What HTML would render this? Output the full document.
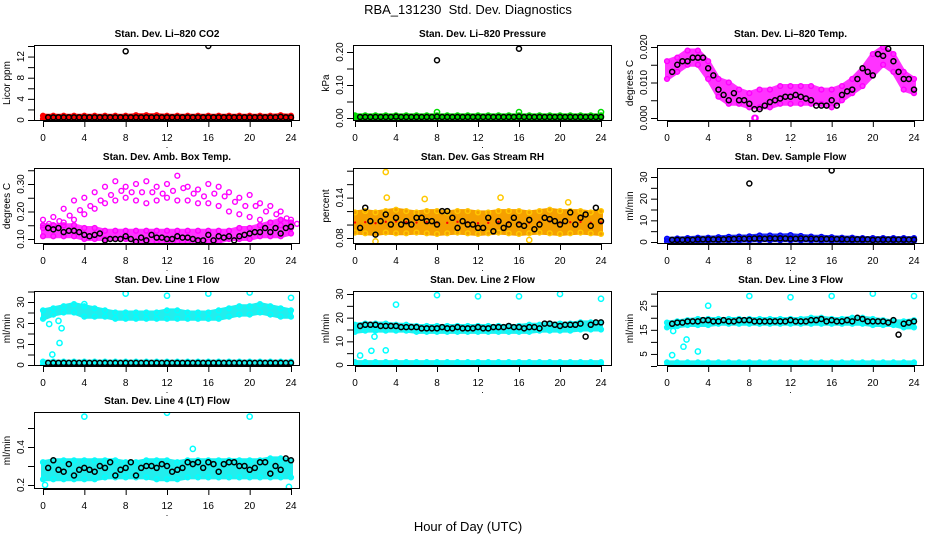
<!DOCTYPE html>
<html><head><meta charset="utf-8">
<style>
html,body{margin:0;padding:0;background:#fff;}
svg{display:block;font-family:"Liberation Sans",sans-serif;}
.t{font-weight:bold;font-size:10px;}
.tk{font-size:10px;}
</style></head>
<body>
<svg id="chart" width="936" height="540" viewBox="0 0 936 540" xmlns="http://www.w3.org/2000/svg">
<rect width="936" height="540" fill="#fff"/>
<text x="468" y="14" text-anchor="middle" font-size="13">RBA_131230&#160; Std. Dev. Diagnostics</text>
<text x="468" y="531" text-anchor="middle" font-size="13">Hour of Day (UTC)</text>
</svg>
<script>
// ---------- data (hourly band lo/hi for x=0..24, black half-hourly x=0.5..24) ----------
const xTicks=[0,4,8,12,16,20,24];
const co2Lo=[0.2,0.2,0.2,0.2,0.2,0.2,0.2,0.2,0.2,0.2,0.2,0.2,0.2,0.2,0.2,0.2,0.2,0.2,0.2,0.2,0.2,0.2,0.2,0.2,0.2];
const co2Hi=[0.8,0.8,0.8,0.8,0.8,0.8,0.8,0.8,0.8,0.9,0.9,0.9,0.8,0.8,0.8,0.8,0.8,0.8,0.8,0.8,0.8,0.8,0.8,0.9,0.8];
const co2Black=[0.5,0.5,0.5,0.5,0.5,0.5,0.5,0.5,0.5,0.5,0.5,0.5,0.5,0.5,0.5,0.5,0.5,0.5,0.5,0.5,0.5,0.5,0.5,0.5,0.5,0.5,0.5,0.5,0.5,0.5,0.5,0.5,0.5,0.5,0.5,0.5,0.5,0.5,0.5,0.5,0.5,0.5,0.5,0.5,0.5,0.6,0.5,0.5];
const co2OutX=[8,16]; const co2OutY=[13,14];
const presLo=[0,0,0,0,0,0,0,0,0,0,0,0,0,0,0,0,0,0,0,0,0,0,0,0,0];
const presHi=[0.008,0.008,0.008,0.008,0.008,0.008,0.008,0.008,0.008,0.008,0.008,0.008,0.008,0.008,0.008,0.008,0.008,0.008,0.008,0.008,0.008,0.008,0.008,0.008,0.008];
const presBlack=[0.003,0.003,0.003,0.003,0.003,0.003,0.003,0.004,0.003,0.003,0.003,0.003,0.003,0.003,0.003,0.004,0.003,0.003,0.003,0.003,0.003,0.003,0.003,0.003,0.003,0.003,0.003,0.003,0.003,0.003,0.003,0.004,0.003,0.003,0.003,0.003,0.003,0.003,0.003,0.003,0.003,0.003,0.003,0.003,0.003,0.003,0.003,0.003];
const presOutX=[8,16]; const presOutY=[0.175,0.21];
const presColOutX=[8,16,24]; const presColOutY=[0.018,0.018,0.018];
const tempLo=[0.011,0.013,0.015,0.015,0.011,0.006,0.004,0.004,0.003,0.003,0.003,0.004,0.004,0.004,0.004,0.004,0.003,0.005,0.007,0.009,0.012,0.015,0.013,0.008,0.007];
const tempHi=[0.016,0.017,0.019,0.019,0.016,0.011,0.010,0.008,0.007,0.008,0.008,0.009,0.009,0.009,0.009,0.008,0.008,0.009,0.011,0.014,0.018,0.020,0.018,0.013,0.011];
const tempBlack=[0.013,0.015,0.016,0.016,0.017,0.017,0.017,0.014,0.012,0.008,0.0065,0.005,0.007,0.005,0.005,0.004,0.0025,0.0025,0.0035,0.0045,0.005,0.0055,0.006,0.006,0.0065,0.006,0.0055,0.005,0.0035,0.0035,0.0035,0.005,0.0035,0.0065,0.0075,0.008,0.011,0.014,0.013,0.012,0.018,0.0175,0.0195,0.016,0.013,0.011,0.011,0.008];
const tempColOutX=[8.5,8.6]; const tempColOutY=[0,0];
const ambLo=[0.11,0.11,0.11,0.11,0.10,0.10,0.10,0.10,0.10,0.09,0.09,0.09,0.09,0.09,0.09,0.09,0.09,0.09,0.10,0.10,0.10,0.11,0.11,0.11,0.12];
const ambHi=[0.15,0.15,0.15,0.15,0.14,0.14,0.13,0.13,0.13,0.13,0.13,0.13,0.13,0.13,0.13,0.13,0.13,0.13,0.13,0.14,0.14,0.15,0.16,0.17,0.16];
const ambUpLo=[0.14,0.15,0.16,0.17,0.19,0.21,0.23,0.24,0.25,0.24,0.23,0.24,0.25,0.24,0.24,0.23,0.23,0.22,0.20,0.19,0.18,0.17,0.16,0.15,0.14];
const ambUpHi=[0.17,0.18,0.21,0.24,0.25,0.27,0.29,0.31,0.29,0.30,0.31,0.29,0.30,0.33,0.29,0.28,0.30,0.29,0.27,0.25,0.26,0.23,0.22,0.20,0.17];
const ambBlack=[0.14,0.135,0.14,0.125,0.13,0.13,0.125,0.115,0.11,0.115,0.12,0.095,0.10,0.10,0.10,0.11,0.10,0.09,0.105,0.095,0.115,0.105,0.105,0.10,0.10,0.11,0.105,0.105,0.10,0.095,0.095,0.115,0.095,0.11,0.105,0.11,0.095,0.11,0.115,0.12,0.125,0.125,0.14,0.125,0.14,0.12,0.14,0.145];
const rhLo=[0.088,0.087,0.086,0.088,0.087,0.087,0.088,0.087,0.086,0.087,0.088,0.087,0.086,0.087,0.088,0.087,0.086,0.087,0.088,0.087,0.086,0.087,0.088,0.087,0.086];
const rhHi=[0.118,0.12,0.118,0.12,0.122,0.12,0.118,0.12,0.12,0.118,0.12,0.12,0.118,0.118,0.12,0.12,0.12,0.118,0.12,0.122,0.12,0.12,0.12,0.118,0.12];
const rhBlack=[0.095,0.125,0.105,0.085,0.105,0.115,0.10,0.11,0.10,0.105,0.10,0.11,0.11,0.105,0.105,0.10,0.12,0.12,0.11,0.095,0.105,0.10,0.10,0.095,0.095,0.11,0.09,0.105,0.095,0.10,0.11,0.10,0.098,0.107,0.093,0.10,0.11,0.108,0.105,0.10,0.105,0.118,0.10,0.11,0.115,0.098,0.125,0.105];
const rhColOutX=[3,2,17,20.8,3.1,6.8,14.2]; const rhColOutY=[0.178,0.075,0.077,0.133,0.14,0.138,0.14];
const sfLo=[0.3,0.3,0.4,0.4,0.5,0.5,0.6,0.6,0.7,0.8,0.8,0.8,0.8,0.7,0.7,0.6,0.6,0.5,0.5,0.5,0.5,0.5,0.5,0.5,0.5];
const sfHi=[1.5,1.6,1.8,2.0,2.0,2.2,2.4,2.5,2.6,3.0,3.0,3.0,3.2,2.8,2.5,2.4,2.2,2.0,2.0,1.8,1.8,1.8,1.8,1.8,1.8];
const sfBlack=[1,1,1,1,1,1.2,1.2,1.2,1.2,1.2,1.2,1.3,1.4,1.5,1.5,1.5,1.6,1.6,1.5,1.7,1.6,1.7,1.6,1.5,1.5,1.6,1.5,1.5,1.4,1.4,1.4,1.3,1.3,1.3,1.2,1.2,1.2,1.2,1.2,1.0,1.1,1.1,1.1,1.1,1.1,1.1,1.1,1.1];
const sfOutX=[8,16]; const sfOutY=[27,33];
const l1Lo=[22,24,25,25,23,23,23,22,22,22,22,22,22,22,22,22,22,22,23,24,24,25,24,23,23];
const l1Hi=[26,27,28,29,28,27,26,25,25,25,25,25,26,26,25,25,25,26,27,28,28,29,28,27,26];
const l1Lo2=[0,0,0,0,0,0,0,0,0,0,0,0,0,0,0,0,0,0,0,0,0,0,0,0,0];
const l1Hi2=[1.6,1.6,1.6,1.6,1.6,1.6,1.6,1.6,1.6,1.6,1.6,1.6,1.6,1.6,1.6,1.6,1.6,1.6,1.6,1.6,1.6,1.6,1.6,1.6,1.6];
const l1Black=[1,1,1,1,1,1,1,1,1,1,1,1,1,1,1,1,1,1,1,1,1,1,1,1,1,1,1,1,1,1,1,1,1,1,1,1,1,1,1,1,1,1,1,1,1,1,1,1];
const l1ColOutX=[8,12,16,20,24,0.6,0.9,1.5,1.6,1.8,4]; const l1ColOutY=[34,33,34,34.5,32,19.5,5,21,10.5,17.5,29];
const l2Lo=[14,14.5,14.5,14.5,14.5,14.5,14,14,14,14,14,14,14,14,14,14,14,14,14.5,14.5,14.5,14.5,15,15,15];
const l2Hi=[17,17.5,17.5,17.5,17,17,16.5,16.5,16.5,16.5,16.5,16.5,16.5,16.5,16.5,16.5,16.5,17,17,17.5,17.5,17.5,18,18,18];
const l2Lo2=[0,0,0,0,0,0,0,0,0,0,0,0,0,0,0,0,0,0,0,0,0,0,0,0,0];
const l2Hi2=[1.2,1.2,1.2,1.2,1.2,1.2,1.2,1.2,1.2,1.2,1.2,1.2,1.2,1.2,1.2,1.2,1.2,1.2,1.2,1.2,1.2,1.2,1.2,1.2,1.2];
const l2Black=[16.5,17,17,17,16.5,16.5,16.5,16.5,16,16,16,16,15.5,15.5,15.5,15.5,16,15.5,15.5,16,15.5,15.5,15.5,16,15.5,15.5,16,16,16,16.5,16,16,15.5,16,16,15.5,17.5,17.5,17,16.5,17,17,17,17.5,12,17,18,18];
const l2ColOutX=[4,8,12,16,20,24,0.5,1.6,1.9,3]; const l2ColOutY=[25.5,29.5,29,29,30,28,4,6,12,6.2];
const l3Lo=[16,16.5,17,17,17,17.5,17.5,17.5,17.5,17.5,17.5,17.5,17.5,17.5,17.5,17.5,17.5,17.5,17.5,17.5,17,17,17,16,16];
const l3Hi=[18,18.5,19,19.5,19.5,19.5,19.5,19.5,19.5,19.5,19.5,19.5,19.5,19.5,20,20,19.5,19.5,20,20,19.5,19,18.5,18.5,19];
const l3Lo2=[0,0,0,0,0,0,0,0,0,0,0,0,0,0,0,0,0,0,0,0,0,0,0,0,0];
const l3Hi2=[1.5,1.5,1.5,1.5,1.5,1.5,1.5,1.5,1.5,1.5,1.5,1.5,1.5,1.5,1.5,1.5,1.5,1.5,1.5,1.5,1.5,1.5,1.5,1.5,1.5];
const l3Black=[17.5,18,18,18.5,18.5,18.5,19,19,18.5,18.5,19,18.5,18.5,19,19,19,18.5,18.5,18.5,18.5,18.5,18.5,18.5,19,18.5,18.5,18.5,19,19,19.5,18.5,19,18.5,18.5,19,18.5,20,19.5,18.5,18.5,18.5,18.5,18,19,13,17.5,18,18.5];
const l3ColOutX=[4,8,12,16,20,24,0.5,0.6,1.6,1.9,3]; const l3ColOutY=[25,29,28.5,29,30,29,4.5,14.5,8,11,6];
const l4Lo=[0.23,0.23,0.23,0.23,0.23,0.23,0.24,0.24,0.24,0.24,0.24,0.23,0.23,0.23,0.24,0.24,0.24,0.24,0.24,0.24,0.24,0.24,0.24,0.24,0.24];
const l4Hi=[0.32,0.33,0.33,0.33,0.33,0.33,0.33,0.33,0.32,0.32,0.33,0.33,0.33,0.32,0.33,0.33,0.33,0.33,0.33,0.33,0.33,0.33,0.34,0.34,0.33];
const l4Black=[0.29,0.33,0.28,0.27,0.31,0.25,0.28,0.29,0.28,0.27,0.3,0.29,0.32,0.25,0.28,0.29,0.32,0.25,0.29,0.3,0.3,0.29,0.31,0.3,0.27,0.28,0.29,0.32,0.31,0.32,0.29,0.32,0.31,0.27,0.31,0.32,0.32,0.30,0.30,0.28,0.29,0.32,0.32,0.26,0.30,0.28,0.34,0.33];
const l4ColOutX=[4,12,20,14.5,0.2,23.8]; const l4ColOutY=[0.56,0.58,0.56,0.39,0.2,0.19];

// ---------- rendering ----------
const NS='http://www.w3.org/2000/svg';
const svg=document.getElementById('chart');
function mk(tag,attrs,parent){const e=document.createElementNS(NS,tag);for(const k in attrs)e.setAttribute(k,attrs[k]);(parent||svg).appendChild(e);return e;}
const cols=[{l:34,r:300,x0:43,x24:291},{l:353,r:612,x0:355,x24:601},{l:657,r:924,x0:667,x24:914}];
const rows=[{t:45,b:121},{t:168,b:244},{t:291,b:366},{t:412,b:489}];
const hours=[];for(let i=0;i<=24;i++)hours.push(i);
const halfHours=[];for(let i=1;i<=48;i++)halfHours.push(i/2);

const panels=[
 {id:'co2',title:'Stan. Dev. Li\u2013820 CO2',ylab:'Licor ppm',c:0,r:0,ya:0,pa:120,yb:14,pb:46,tmin:0,tmax:14,tstep:2,labels:[0,4,8,12],fmt:0,color:'#ff0000',band:'#ff0000',bands:[[co2Lo,co2Hi,1]],black:co2Black,bx:co2OutX,by:co2OutY,cx:[],cy:[]},
 {id:'pressure',title:'Stan. Dev. Li\u2013820 Pressure',ylab:'kPa',c:1,r:0,ya:0,pa:118,yb:0.2,pb:52,tmin:0,tmax:0.2,tstep:0.05,labels:[0,0.1,0.2],fmt:2,color:'#00dd00',band:'#00dd00',bands:[[presLo,presHi,1]],black:presBlack,bx:presOutX,by:presOutY,cx:presColOutX,cy:presColOutY},
 {id:'temp',title:'Stan. Dev. Li\u2013820 Temp.',ylab:'degrees C',c:2,r:0,ya:0,pa:118,yb:0.02,pb:47,tmin:0,tmax:0.02,tstep:0.005,labels:[0,0.01,0.02],fmt:3,color:'#ff00ff',band:'#ff33ff',bands:[[tempLo,tempHi,1]],black:tempBlack,bx:[],by:[],cx:tempColOutX,cy:tempColOutY},
 {id:'ambbox',title:'Stan. Dev. Amb. Box Temp.',ylab:'degrees C',c:0,r:1,ya:0.1,pa:239,yb:0.3,pb:184,tmin:0.1,tmax:0.35,tstep:0.05,labels:[0.1,0.2,0.3],fmt:2,color:'#ff00ff',band:'#ff33ff',bands:[[ambLo,ambHi,1],[ambUpLo,ambUpHi,0]],black:ambBlack,bx:[],by:[],cx:[],cy:[]},
 {id:'rh',title:'Stan. Dev. Gas Stream RH',ylab:'percent',c:1,r:1,ya:0.08,pa:238,yb:0.18,pb:170.7,tmin:0.08,tmax:0.18,tstep:0.02,labels:[0.08,0.14],fmt:2,color:'#ffc800',band:'#f5a000',bands:[[rhLo,rhHi,1]],black:rhBlack,bx:[],by:[],cx:rhColOutX,cy:rhColOutY},
 {id:'sampleflow',title:'Stan. Dev. Sample Flow',ylab:'ml/min',c:2,r:1,ya:0,pa:242,yb:30,pb:177,tmin:0,tmax:30,tstep:5,labels:[0,10,20,30],fmt:0,color:'#0000ff',band:'#2233ee',bands:[[sfLo,sfHi,1]],black:sfBlack,bx:sfOutX,by:sfOutY,cx:[],cy:[]},
 {id:'line1',title:'Stan. Dev. Line 1 Flow',ylab:'ml/min',c:0,r:2,ya:0,pa:365,yb:30,pb:302,tmin:0,tmax:35,tstep:5,labels:[0,10,20,30],fmt:0,color:'#00ffff',band:'#22eeee',bands:[[l1Lo,l1Hi,1],[l1Lo2,l1Hi2,1]],black:l1Black,bx:[],by:[],cx:l1ColOutX,cy:l1ColOutY},
 {id:'line2',title:'Stan. Dev. Line 2 Flow',ylab:'ml/min',c:1,r:2,ya:0,pa:365,yb:30,pb:294,tmin:0,tmax:30,tstep:5,labels:[0,10,20,30],fmt:0,color:'#00ffff',band:'#22eeee',bands:[[l2Lo,l2Hi,1],[l2Lo2,l2Hi2,1]],black:l2Black,bx:[],by:[],cx:l2ColOutX,cy:l2ColOutY},
 {id:'line3',title:'Stan. Dev. Line 3 Flow',ylab:'ml/min',c:2,r:2,ya:0,pa:366,yb:25,pb:305.7,tmin:0,tmax:30,tstep:5,labels:[5,15,25],fmt:0,color:'#00ffff',band:'#22eeee',bands:[[l3Lo,l3Hi,1],[l3Lo2,l3Hi2,1]],black:l3Black,bx:[],by:[],cx:l3ColOutX,cy:l3ColOutY},
 {id:'line4',title:'Stan. Dev. Line 4 (LT) Flow',ylab:'ml/min',c:0,r:3,ya:0.2,pa:485,yb:0.4,pb:447,tmin:0.2,tmax:0.5,tstep:0.1,labels:[0.2,0.4],fmt:1,color:'#00ffff',band:'#22eeee',bands:[[l4Lo,l4Hi,1]],black:l4Black,bx:[],by:[],cx:l4ColOutX,cy:l4ColOutY}
];

panels.forEach(p=>{
 const C=cols[p.c],R=rows[p.r];
 const xs=v=>C.x0+(C.x24-C.x0)*v/24;
 const ys=v=>p.pa+(p.pb-p.pa)*(v-p.ya)/(p.yb-p.ya);
 const g=mk('g',{});
 
 
 const clip=mk('clipPath',{id:'clip-'+p.id},g);
 mk('rect',{x:C.l,y:R.t,width:C.r-C.l,height:R.b-R.t},clip);
 const plot=mk('g',{'clip-path':'url(#clip-'+p.id+')'},g);
 p.bands.forEach((b,bi)=>{
  if(b[2]){
   let pts=hours.map((h,i)=>xs(h)+','+ys(b[1][i]));
   pts=pts.concat(hours.slice().reverse().map(h=>xs(h)+','+ys(b[0][h])));
   const poly=mk('polygon',{points:pts.join(' '),fill:p.band,stroke:p.band,'stroke-width':4,'stroke-linejoin':'round'},plot);
   
   
  }
  hours.forEach((h,i)=>{
   [b[0][i],b[1][i]].forEach(v=>{
    const c=mk('circle',{cx:xs(h),cy:ys(v),r:2.4,fill:'none',stroke:p.color,'stroke-width':1.4},plot);
    
    
   });
   if(!b[2]){
    const c=mk('circle',{cx:xs(h)+6,cy:ys((b[0][i]+b[1][i])/2),r:2.4,fill:'none',stroke:p.color,'stroke-width':1.4},plot);
    
    
   }
  });
 });
 if(p.id==='rh'){hours.forEach((h,i)=>{const c=mk('circle',{cx:xs(h),cy:ys((rhLo[i]+rhHi[i])/2),r:1.2,fill:'#ff0000'},plot);});}
 p.cx.forEach((x,i)=>{
  const c=mk('circle',{cx:xs(x),cy:ys(p.cy[i]),r:2.6,fill:'none',stroke:p.color,'stroke-width':1.5},plot);
  
  
 });
 p.black.forEach((v,i)=>{
  const c=mk('circle',{cx:xs(halfHours[i]),cy:ys(v),r:2.5,fill:'none',stroke:'#000','stroke-width':1.5},plot);
  
  
 });
 p.bx.forEach((x,i)=>{
  const c=mk('circle',{cx:xs(x),cy:ys(p.by[i]),r:2.5,fill:'none',stroke:'#000','stroke-width':1.5},plot);
  
  
 });
 const box=mk('rect',{x:C.l+0.5,y:R.t+0.5,width:C.r-C.l-1,height:R.b-R.t-1,fill:'none',stroke:'#000','stroke-width':1},g);
 
 
 const t=mk('text',{x:(C.l+C.r)/2,y:R.t-8,'text-anchor':'middle',class:'t'},g);
 t.textContent=p.title;
 
 
 mk('line',{x1:xs(0),x2:xs(24),y1:R.b+0.5,y2:R.b+0.5,stroke:'#000'},g);
 xTicks.forEach(v=>{
  mk('line',{x1:xs(v)+0.5,x2:xs(v)+0.5,y1:R.b,y2:R.b+6,stroke:'#000'},g);
  const tx=mk('text',{x:xs(v),y:R.b+20,'text-anchor':'middle',class:'tk'},g);
  tx.textContent=v;
  
  
 });
 const dot=mk('text',{x:(C.l+C.r)/2,y:R.b+27,'text-anchor':'middle','font-size':9},g);
 dot.textContent='.';
 
 
 const n=Math.round((p.tmax-p.tmin)/p.tstep);
 for(let k=0;k<=n;k++){const v=p.tmin+k*p.tstep;const y=ys(v);mk('line',{x1:C.l-6,x2:C.l,y1:y+0.5,y2:y+0.5,stroke:'#000'},g);}
 p.labels.forEach(v=>{
  const y=ys(v);
  const tx=mk('text',{x:0,y:0,'text-anchor':'middle',class:'tk',transform:'translate('+(C.l-10)+','+y+') rotate(-90)'},g);
  tx.textContent=v.toFixed(p.fmt);
  
  
 });
 const yl=mk('text',{x:0,y:0,'text-anchor':'middle','font-size':10,transform:'translate('+(C.l-24)+','+((R.t+R.b)/2)+') rotate(-90)'},g);
 yl.textContent=p.ylab;
 
 
});
</script>
</body></html>
